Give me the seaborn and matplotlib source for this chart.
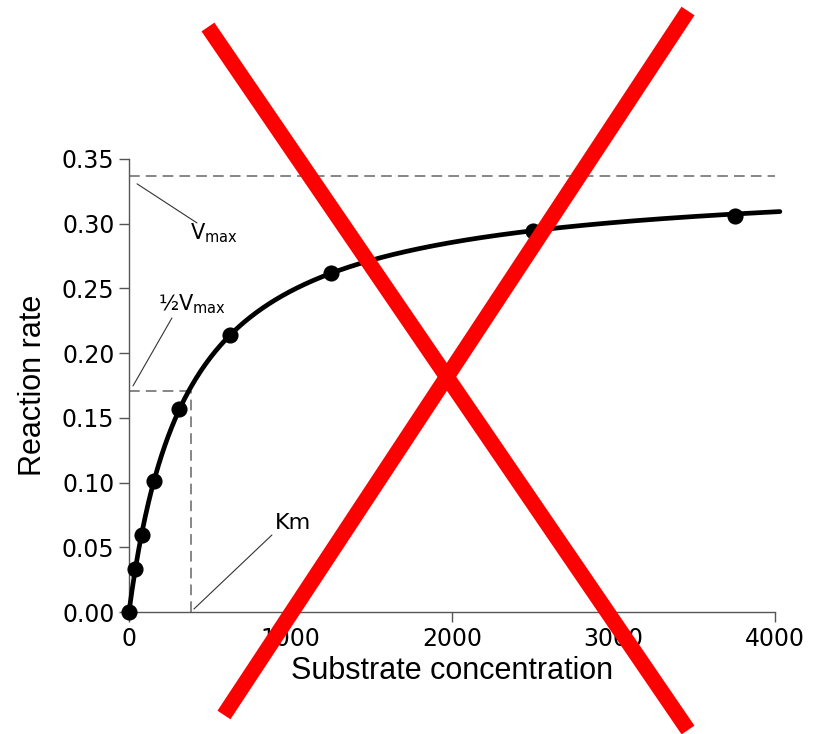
"""
Michaelis-Menten 포화 곡선 재현
- 기질 농도별 반응 속도 측정점
- Vmax, 1/2 Vmax, Km 보조선과 주석
"""
import numpy as np
import pandas as pd
import matplotlib

matplotlib.use("Agg")
import matplotlib.pyplot as plt
from matplotlib.lines import Line2D
import seaborn as sns

substrate = [0, 39, 78, 156, 312, 625, 1250, 2500, 3750]
rate = [0.0, 0.0332, 0.0595, 0.101, 0.157, 0.214, 0.262, 0.294, 0.306]

# 곡선 파라미터와 보조선 위치
curve_vmax = 0.337
curve_km = 360
vmax_line = 0.337
half_line = 0.171
km_line = 384

x_ticks = [0, 1000, 2000, 3000, 4000]
y_ticks = [0.00, 0.05, 0.10, 0.15, 0.20, 0.25, 0.30, 0.35]

sns.set_style("ticks")
plt.rcParams["font.family"] = ["DejaVu Sans"]
plt.rcParams["mathtext.default"] = "regular"

fig = plt.figure(figsize=(8.21, 7.34), dpi=100)
ax = fig.add_axes([0.1571, 0.1662, 0.7869, 0.6172])

# Michaelis-Menten 모델 곡선
s_grid = np.linspace(0, 4030, 400)
curve = pd.DataFrame({"S": s_grid, "v": curve_vmax * s_grid / (curve_km + s_grid)})
sns.lineplot(data=curve, x="S", y="v", ax=ax, color="black", lw=3.4, clip_on=False, zorder=3)

pts = pd.DataFrame({"S": substrate, "v": rate})
sns.scatterplot(data=pts, x="S", y="v", ax=ax, color="black", s=135, edgecolor="black",
                linewidth=0, clip_on=False, zorder=4)

dash = dict(color="#666666", lw=1.1, ls=(0, (7, 4)), zorder=2)
ax.plot([0, 4000], [vmax_line, vmax_line], **dash)
ax.plot([0, km_line], [half_line, half_line], **dash)
ax.plot([km_line, km_line], [0, half_line], **dash)

line_kw = dict(arrowstyle="-", color="#333333", lw=0.8, shrinkA=0, shrinkB=0)
ax.text(378, 0.293, "V$_{max}$", fontsize=15, color="black", ha="left", va="center")
ax.annotate("", xy=(50, 0.3308), xytext=(421, 0.3006), arrowprops=line_kw)
ax.text(180, 0.238, "½V$_{max}$", fontsize=15, color="black", ha="left", va="center")
ax.annotate("", xy=(25, 0.1747), xytext=(266, 0.2272), arrowprops=line_kw)
ax.text(904, 0.0688, "Km", fontsize=16, color="black", ha="left", va="center")
ax.annotate("", xy=(402, 0.0023), xytext=(885, 0.0595), arrowprops=line_kw)

ax.set_xlim(0, 4000)
ax.set_ylim(0, 0.35)
ax.set_xticks(x_ticks)
ax.set_yticks(y_ticks)
ax.set_yticklabels([f"{t:.2f}" for t in y_ticks])
ax.tick_params(labelsize=17, colors="#555555", labelcolor="black", length=7, width=1)
for side in ["top", "right"]:
    ax.spines[side].set_visible(False)
for side in ["left", "bottom"]:
    ax.spines[side].set_color("#555555")
    ax.spines[side].set_linewidth(1)

ax.set_xlabel("Substrate concentration", fontsize=22, color="black",
              family=["Liberation Sans"], labelpad=4)
ax.set_ylabel("Reaction rate", fontsize=22, color="black",
              family=["Liberation Sans"], labelpad=10)

# 빨간 X 표시 (그림 좌표)
for (x0, y0), (x1, y1) in [((0.2533, 0.9632), (0.8380, 0.00545)),
                           ((0.8380, 0.9850), (0.2728, 0.0259))]:
    fig.add_artist(Line2D([x0, x1], [y0, y1], transform=fig.transFigure, color="#ff0000",
                          lw=11.2, solid_capstyle="butt", zorder=10))

fig.savefig("out.png", dpi=100)
